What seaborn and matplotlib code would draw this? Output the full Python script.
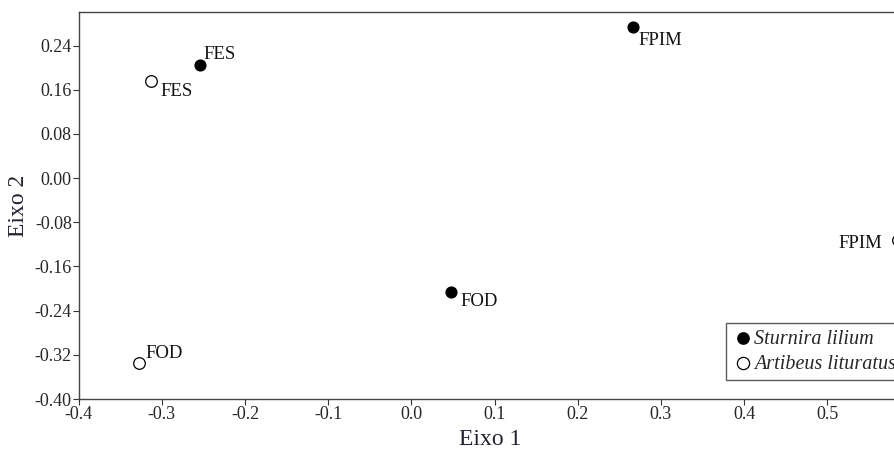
import numpy as np
import pandas as pd
import matplotlib
matplotlib.use('Agg')
import matplotlib.pyplot as plt
import seaborn as sns

# ordination scores
sites = ['FES', 'FPIM', 'FOD']
sturnira_x = [-0.254, 0.266, 0.047]
sturnira_y = [0.205, 0.274, -0.207]
artibeus_x = [-0.313, 0.585, -0.327]
artibeus_y = [0.176, -0.112, -0.334]

# label offsets (points) for each site label
sturnira_off = [(2, 4), (4, -13), (7, -10)]
artibeus_off = [(7, -11), (-43, -6), (4, 3)]

df = pd.DataFrame({
    'x': sturnira_x + artibeus_x,
    'y': sturnira_y + artibeus_y,
    'site': sites + sites,
    'species': ['Sturnira lilium'] * 3 + ['Artibeus lituratus'] * 3,
})

sns.set_style('ticks')
plt.rcParams['font.family'] = ['Liberation Serif', 'DejaVu Serif']

fig = plt.figure(figsize=(8.95, 4.54), dpi=100)
ax = fig.add_axes([0.088, 0.121, 0.92, 0.853])

sns.scatterplot(data=df[df['species'] == 'Sturnira lilium'], x='x', y='y',
                color='black', edgecolor='black', s=60, linewidth=1,
                label='Sturnira lilium', ax=ax, clip_on=False, zorder=3)
sns.scatterplot(data=df[df['species'] == 'Artibeus lituratus'], x='x', y='y',
                color='white', edgecolor='black', s=70, linewidth=0.9,
                label='Artibeus lituratus', ax=ax, clip_on=False, zorder=3)

for i in range(3):
    ax.annotate(sites[i], (sturnira_x[i], sturnira_y[i]), xytext=sturnira_off[i],
                textcoords='offset points', fontsize=13.5, color='#111111')
    ax.annotate(sites[i], (artibeus_x[i], artibeus_y[i]), xytext=artibeus_off[i],
                textcoords='offset points', fontsize=13.5, color='#111111')

ax.set_xlim(-0.4, 0.59)
ax.set_ylim(-0.40, 0.301)
ax.set_xticks(np.arange(-0.4, 0.51, 0.1))
ax.set_xticklabels(['-0.4', '-0.3', '-0.2', '-0.1', '0.0', '0.1', '0.2', '0.3', '0.4', '0.5'])
yt = [-0.40, -0.32, -0.24, -0.16, -0.08, 0.00, 0.08, 0.16, 0.24]
ax.set_yticks(yt)
ax.set_yticklabels(['%.2f' % v for v in yt])
ax.tick_params(labelsize=13, length=4, width=0.8, color='#333333', pad=1)
for side in ['top', 'left', 'bottom']:
    ax.spines[side].set_color('#444444')
    ax.spines[side].set_linewidth(1)
ax.spines['right'].set_visible(False)

ax.set_xlabel('Eixo 1', fontsize=17, color='#222233', labelpad=4)
ax.set_ylabel('Eixo 2', fontsize=17, color='#222233', labelpad=4)

leg = ax.legend(loc='lower right', bbox_to_anchor=(1.0, 0.05), frameon=True,
                fancybox=False, prop={'style': 'italic', 'size': 14.5},
                handletextpad=0.0, borderpad=0.3, labelspacing=0.3,
                handlelength=1.1, borderaxespad=0, markerscale=1.05)
leg.get_frame().set_edgecolor('#333333')
leg.get_frame().set_linewidth(1)

fig.savefig('out.png', dpi=100)
